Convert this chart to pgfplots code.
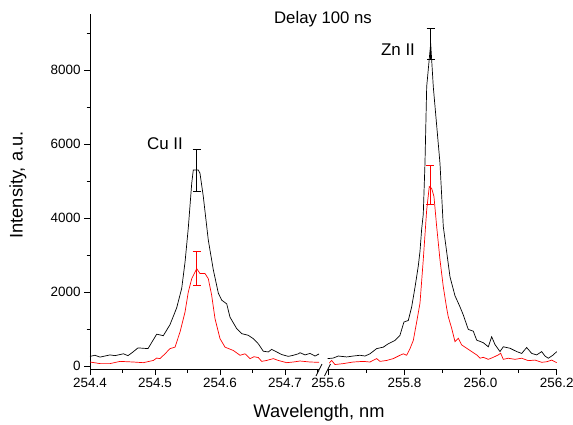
\documentclass[border=0pt]{standalone}
\usepackage{pgfplots}
\pgfplotsset{compat=1.18}
\usepackage{fontspec}
\setmainfont{Liberation Sans}
\begin{document}
\begin{tikzpicture}[x=1bp,y=1bp]
\useasboundingbox (0,0) rectangle (573,424);
\pgfplotsset{
  common/.style={
    scale only axis, anchor=south west,
    height=355bp,
    ymin=-81, ymax=9514,
    axis x line*=bottom,
    axis line style={-, line width=0.8bp},
    every tick/.style={black, line width=0.8bp},
    tick align=outside,
    major tick length=6bp, minor tick length=3.5bp,
    tick label style={font=\fontsize{13.5}{16}\selectfont},
    /pgf/number format/assume math mode=true,
    /pgf/number format/set thousands separator={},
    scaled ticks=false,
    clip=false,
  },
  ebar/.style={mark=none, line width=0.7bp, error bars/.cd, y dir=both, y explicit,
    error bar style={#1, line width=0.7bp},
    error mark=-,
    error mark options={#1, rotate=90, mark size=4bp, line width=0.7bp}},
}
% ---------- left segment ----------
\begin{axis}[common,
  at={(90bp,55bp)}, width=229bp,
  xmin=254.4, xmax=254.7523,
  axis y line*=left,
  xtick={254.4,254.5,254.6,254.7},
  minor xtick={254.45,254.55,254.65,254.75},
  xticklabel style={/pgf/number format/.cd, fixed, fixed zerofill, precision=1},
  ytick={0,2000,4000,6000,8000},
  minor ytick={1000,3000,5000,7000,9000},
]
\addplot[black, line width=0.7bp] coordinates {
(254.4000,260)(254.4077,290)(254.4154,240)(254.4308,300)(254.4385,280)
(254.4513,330)(254.4585,280)(254.4662,380)(254.4738,490)(254.4892,470)
(254.5026,860)(254.5128,820)(254.5231,1120)(254.5333,1570)(254.5411,2100)
(254.5462,2810)(254.5512,3730)(254.5565,4940)(254.5589,5300)(254.5666,5300)
(254.5692,5210)(254.5743,4580)(254.5820,3400)(254.5897,2600)(254.5974,1970)
(254.6026,1780)(254.6103,1680)(254.6154,1320)(254.6257,1010)(254.6333,875)
(254.6435,830)(254.6512,740)(254.6589,600)(254.6666,400)(254.6743,380)
(254.6795,450)(254.6872,380)(254.6949,310)(254.7051,260)(254.7128,290)
(254.7205,330)(254.7231,360)(254.7308,300)(254.7385,340)(254.7462,270)
(254.7523,325)
};
\addplot[red, line width=0.7bp] coordinates {
(254.4000,108)(254.4154,65)(254.4308,65)(254.4462,125)(254.4666,108)
(254.4820,90)(254.4974,150)(254.5026,215)(254.5077,200)(254.5154,330)
(254.5231,470)(254.5308,510)(254.5385,920)(254.5462,1460)(254.5512,2000)
(254.5565,2360)(254.5642,2630)(254.5692,2500)(254.5769,2500)(254.5820,2360)
(254.5872,1910)(254.5923,1280)(254.6000,740)(254.6077,510)(254.6205,420)
(254.6308,290)(254.6385,330)(254.6462,200)(254.6523,250)(254.6589,230)
(254.6641,125)(254.6718,150)(254.6820,200)(254.6897,150)(254.7026,90)
(254.7128,108)(254.7231,135)(254.7385,108)(254.7523,100)
};
\addplot[black, ebar=black] coordinates {(254.564,5285) +- (0,575)};
\addplot[red, ebar=red] coordinates {(254.564,2650) +- (0,460)};
\draw[line width=0.8bp] ([xshift=-3bp,yshift=-7bp]rel axis cs:1,0) -- ([xshift=3bp,yshift=5bp]rel axis cs:1,0);
\end{axis}
% ---------- right segment ----------
\begin{axis}[common,
  at={(327.5bp,55bp)}, width=229.2bp,
  xmin=255.598, xmax=256.2,
  axis y line=none,
  xtick={255.6,255.8,256.0,256.2},
  minor xtick={255.7,255.9,256.1},
  xticklabel style={/pgf/number format/.cd, fixed, fixed zerofill, precision=1},
]
\addplot[black, line width=0.7bp] coordinates {
(255.5984,200)(255.6131,215)(255.6263,270)(255.6483,245)(255.6657,270)
(255.6833,290)(255.6964,270)(255.7095,330)(255.7271,470)(255.7445,510)
(255.7576,600)(255.7752,690)(255.7883,830)(255.7988,1190)(255.8101,1230)
(255.8191,1600)(255.8277,2120)(255.8364,2700)(255.8409,3100)(255.8453,3700)
(255.8495,4100)(255.8540,5480)(255.8585,7550)(255.8690,8720)(255.8758,7550)
(255.8934,5480)(255.9021,3770)(255.9197,2410)(255.9328,1900)(255.9459,1600)
(255.9546,1380)(255.9677,990)(255.9809,940)(255.9898,700)(256.0071,630)
(256.0203,520)(256.0292,790)(256.0379,580)(256.0510,390)(256.0597,520)
(256.0773,480)(256.0949,390)(256.1080,340)(256.1211,500)(256.1343,340)
(256.1474,300)(256.1605,390)(256.1692,270)(256.1779,210)(256.1910,300)
(256.2000,390)
};
\addplot[red, line width=0.7bp] coordinates {
(255.6026,80)(255.6089,150)(255.6176,40)(255.6394,65)(255.6657,108)
(255.6919,125)(255.7095,108)(255.7271,200)(255.7358,125)(255.7534,150)
(255.7707,200)(255.7883,290)(255.7970,330)(255.8059,290)(255.8146,470)
(255.8233,690)(255.8322,1190)(255.8409,1700)(255.8495,2870)(255.8585,4220)
(255.8653,4850)(255.8716,4800)(255.8776,4580)(255.8847,3770)(255.8934,2870)
(255.9021,2140)(255.9110,1560)(255.9152,1330)(255.9241,1020)(255.9328,660)
(255.9415,750)(255.9504,570)(255.9635,480)(255.9767,390)(255.9898,300)
(255.9985,210)(256.0071,235)(256.0203,180)(256.0334,235)(256.0465,300)
(256.0528,345)(256.0597,180)(256.0728,210)(256.0904,180)(256.1080,210)
(256.1254,145)(256.1430,160)(256.1605,100)(256.1737,115)(256.1868,160)
(256.2000,90)
};
\addplot[black, ebar=black] coordinates {(255.869,8710) +- (0,420)};
\addplot[red, ebar=red] coordinates {(255.867,4890) +- (0,520)};
\draw[line width=0.8bp] ([xshift=-3bp,yshift=-7bp]rel axis cs:0,0) -- ([xshift=3bp,yshift=5bp]rel axis cs:0,0);
\end{axis}
% ---------- texts ----------
\node[font=\fontsize{16.8}{20}\selectfont] at (323,405) {Delay 100 ns};
\node[font=\fontsize{17}{20}\selectfont] at (165,280) {Cu II};
\node[font=\fontsize{17}{20}\selectfont] at (398,374) {Zn II};
\node[font=\fontsize{18.3}{22}\selectfont] at (319,11) {Wavelength, nm};
\node[font=\fontsize{18.3}{22}\selectfont, rotate=90] at (18,239) {Intensity, a.u.};
\end{tikzpicture}
\end{document}
